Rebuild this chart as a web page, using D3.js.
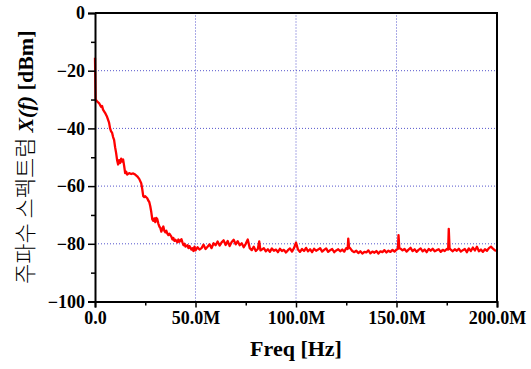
<!DOCTYPE html>
<html>
<head>
<meta charset="utf-8">
<script src="https://cdn.jsdelivr.net/npm/d3@7"></script>
<style>
  html, body { margin: 0; padding: 0; background: #fff; }
  svg { display: block; }
</style>
</head>
<body>
<svg id="chart"></svg>
<script>
// spectrum samples: [freq MHz, level dBm]
const spectrum = [
  [0, -15.5], [0.3, -30], [1, -30.6], [2, -31.2], [3, -32.5], [3.5, -32.2], [4, -33.5], [5, -34.6],
  [6, -36], [7, -38], [7.5, -40], [8, -41], [8.5, -41.5], [9, -43], [9.5, -44], [10, -46.5],
  [10.5, -48.5], [11, -51], [11.5, -52.5], [12, -51], [12.5, -52], [13, -50.5], [13.5, -51.5],
  [14, -50.8], [14.5, -53], [15, -55.5], [15.5, -55], [16, -56], [17, -55.5], [18, -55.8],
  [19, -55.6], [20, -56], [21, -56.6], [22, -57.5], [23, -59], [23.5, -61], [24, -63.5],
  [24.5, -63.8], [25, -63.5], [26, -64.2], [26.5, -65], [27, -65.5], [27.5, -67], [28, -69],
  [28.5, -71.5], [29, -72], [29.5, -71.2], [30, -72.5], [30.5, -71], [31, -71.5], [31.5, -73],
  [32, -74], [32.5, -74.5], [33, -75.8], [33.5, -74.8], [34, -74], [34.5, -75.5], [35, -76],
  [35.5, -75.5], [36, -76.5], [36.5, -77], [37, -76.5], [38, -77.5], [38.5, -78.5], [39, -78],
  [39.5, -79], [40, -78.6], [41, -79.5], [41.5, -78.5], [42, -79.3], [43, -78.4], [43.5, -79.5],
  [44, -80.5], [44.5, -80], [45, -81], [46, -80.5], [46.5, -81.5], [47, -80.8], [48, -82],
  [48.5, -81.5], [49, -82.5], [49.5, -81], [50, -82.3],
  [51, -81.2], [52, -82], [53, -81.5], [54, -80.3], [55, -81.8], [56, -81], [57, -80.2],
  [58, -81.5], [59, -79.8], [60, -80.5], [61, -79.2], [62, -80.6], [63, -79.5], [64, -78.8],
  [65, -80.4], [66, -79], [67, -80.8], [68, -79.4], [69, -78.6], [70, -80.2], [71, -79.1],
  [72, -80.5], [73, -79.8], [74, -81.2], [75, -80], [76, -78.5], [77, -81.5], [78, -82.2],
  [79, -81], [80, -82.5], [81, -81.8], [81.7, -79.2], [82.3, -82.3], [84, -81.5], [85, -82.6],
  [86, -81.9], [87, -82.8], [88, -81.6], [89, -82.4], [90, -82], [91, -82.9], [92, -81.7],
  [93, -82.5], [94, -82.1], [95, -83], [96, -82.2], [97, -81.6], [98, -82.7], [99, -81.5],
  [100, -79.6], [101, -82], [102, -82.8], [103, -81.8], [104, -82.5], [105, -81.4], [106, -82.6],
  [107, -81.9], [108, -82.9], [109, -81.7], [110, -82.4], [111, -82], [112, -81.5], [113, -82.7],
  [114, -82.1], [115, -81.6], [116, -82.8], [117, -82.2], [118, -81.8], [119, -82.9], [120, -82.3],
  [121, -81.9], [122, -82.6], [123, -82], [124, -82.7], [125, -81.5], [125.7, -81.8], [126, -78.2],
  [126.4, -81.2], [127, -81.6], [128, -82.5], [129, -82.9], [130, -82.4], [131, -83.2], [132, -82.6],
  [133, -83.4], [134, -82.8], [135, -83], [136, -82.3], [137, -83.3], [138, -82.7], [139, -83.1],
  [140, -82.5], [141, -83.4], [142, -82.6], [143, -82.9], [144, -82.2], [145, -83], [146, -82.4],
  [147, -82.8], [148, -82.1], [149, -82.7], [150, -82], [150.7, -81.8], [151, -77], [151.4, -81.5],
  [152, -81.7], [153, -82.3], [154, -81.8], [155, -82.7], [156, -82], [157, -81.4], [158, -82.5],
  [159, -81.9], [160, -82.8], [161, -82.1], [162, -81.6], [163, -82.6], [164, -82], [165, -82.9],
  [166, -81.8], [167, -82.4], [168, -81.7], [169, -82.6], [170, -82.2], [171, -81.9], [172, -82.8],
  [173, -82.1], [174, -82.5], [175, -81.8], [175.7, -82], [176, -74.8], [176.4, -81.6], [177, -82],
  [178, -82.6], [179, -81.9], [180, -82.4], [181, -81.7], [182, -82.7], [183, -82.2], [184, -81.8],
  [185, -82.9], [186, -81.6], [187, -82.5], [188, -81.3], [189, -82.3], [190, -81], [191, -82.6],
  [192, -82], [193, -82.8], [194, -81.9], [195, -82.4], [196, -81.5], [197, -81], [198, -81.7],
  [199, -82.3], [200, -82.5]
];

const xMajorTicks = [0, 50, 100, 150, 200];
const xMinorTicks = [25, 75, 125, 175];
const xTickLabels = ['0.0', '50.0M', '100.0M', '150.0M', '200.0M'];
const yMajorTicks = [0, -20, -40, -60, -80, -100];
const yMinorTicks = [-10, -30, -50, -70, -90];
const xGrid = [50, 100, 150];
const yGrid = [-20, -40, -60, -80];

const width = 531;
const height = 369;
const margin = { top: 13, right: 34, bottom: 67, left: 95 };
const serif = '"Liberation Serif", "Times New Roman", serif';

const svg = d3.select('#chart').attr('width', width).attr('height', height);

const x = d3.scaleLinear([0, 200], [margin.left, width - margin.right]);
const y = d3.scaleLinear([-100, 0], [height - margin.bottom - 0.5, margin.top]);

/**
 * grid
 */
const grid = svg.append('g').attr('stroke', '#5555cc').attr('stroke-width', 1).attr('stroke-dasharray', '1,2');
grid.selectAll('.gx').data(xGrid).join('line')
  .attr('x1', (d) => x(d)).attr('x2', (d) => x(d))
  .attr('y1', y(-100)).attr('y2', y(0));
grid.selectAll('.gy').data(yGrid).join('line')
  .attr('x1', x(0)).attr('x2', x(200))
  .attr('y1', (d) => y(d)).attr('y2', (d) => y(d));

/**
 * curve
 */
const line = d3.line().x((d) => x(d[0])).y((d) => y(d[1]));
svg.append('path')
  .attr('fill', 'none')
  .attr('stroke', '#ff0000')
  .attr('stroke-width', 2.3)
  .attr('stroke-linejoin', 'round')
  .attr('d', line(spectrum));

/**
 * axes
 */
const xAxis = d3.axisBottom(x).tickValues(xMajorTicks).tickSize(6).tickPadding(4)
  .tickFormat((d, i) => xTickLabels[i]);
svg.append('g')
  .attr('transform', `translate(0,${y(-100)})`)
  .call(xAxis)
  .call((g) => g.select('.domain').attr('stroke-width', 2))
  .call((g) => g.selectAll('.tick line').attr('stroke-width', 1.5))
  .call((g) => g.selectAll('.tick text').attr('font-family', serif).attr('font-weight', 'bold').attr('font-size', 18).attr('fill', '#000'));
svg.append('g')
  .attr('transform', `translate(0,${y(-100)})`)
  .call(d3.axisBottom(x).tickValues(xMinorTicks).tickSize(4).tickFormat(''))
  .call((g) => g.select('.domain').remove())
  .call((g) => g.selectAll('.tick line').attr('stroke-width', 1.5));

const yAxis = d3.axisLeft(y).tickValues(yMajorTicks).tickSize(7).tickPadding(3).tickFormat(d3.format('d'));
svg.append('g')
  .attr('transform', `translate(${x(0)},0)`)
  .call(yAxis)
  .call((g) => g.select('.domain').attr('stroke-width', 2))
  .call((g) => g.selectAll('.tick line').attr('stroke-width', 1.5))
  .call((g) => g.selectAll('.tick text').attr('font-family', serif).attr('font-weight', 'bold').attr('font-size', 18).attr('fill', '#000'));
svg.append('g')
  .attr('transform', `translate(${x(0)},0)`)
  .call(d3.axisLeft(y).tickValues(yMinorTicks).tickSize(4).tickFormat(''))
  .call((g) => g.select('.domain').remove())
  .call((g) => g.selectAll('.tick line').attr('stroke-width', 1.5));

// top and right frame
svg.append('path')
  .attr('fill', 'none')
  .attr('stroke', '#000')
  .attr('stroke-width', 2)
  .attr('d', `M${x(0)},${y(0)}H${x(200)}V${y(-100)}`);

/**
 * axis titles
 */
svg.append('text')
  .attr('x', (x(0) + x(200)) / 2)
  .attr('y', 356)
  .attr('text-anchor', 'middle')
  .attr('font-family', serif)
  .attr('font-weight', 'bold')
  .attr('font-size', 22)
  .text('Freq [Hz]');

const yTitle = svg.append('text')
  .attr('transform', `translate(33,${(y(0) + y(-100)) / 2}) rotate(-90)`)
  .attr('text-anchor', 'middle')
  .attr('font-size', 22);
yTitle.append('tspan').attr('font-family', '"Noto Sans CJK KR", sans-serif').attr('font-weight', 300).text('주파수 스펙트럼 ');
yTitle.append('tspan').attr('font-family', serif).attr('font-weight', 'bold').attr('font-style', 'italic').text('X(f)');
yTitle.append('tspan').attr('font-family', serif).attr('font-weight', 'bold').text(' [dBm]');
</script>
</body>
</html>
